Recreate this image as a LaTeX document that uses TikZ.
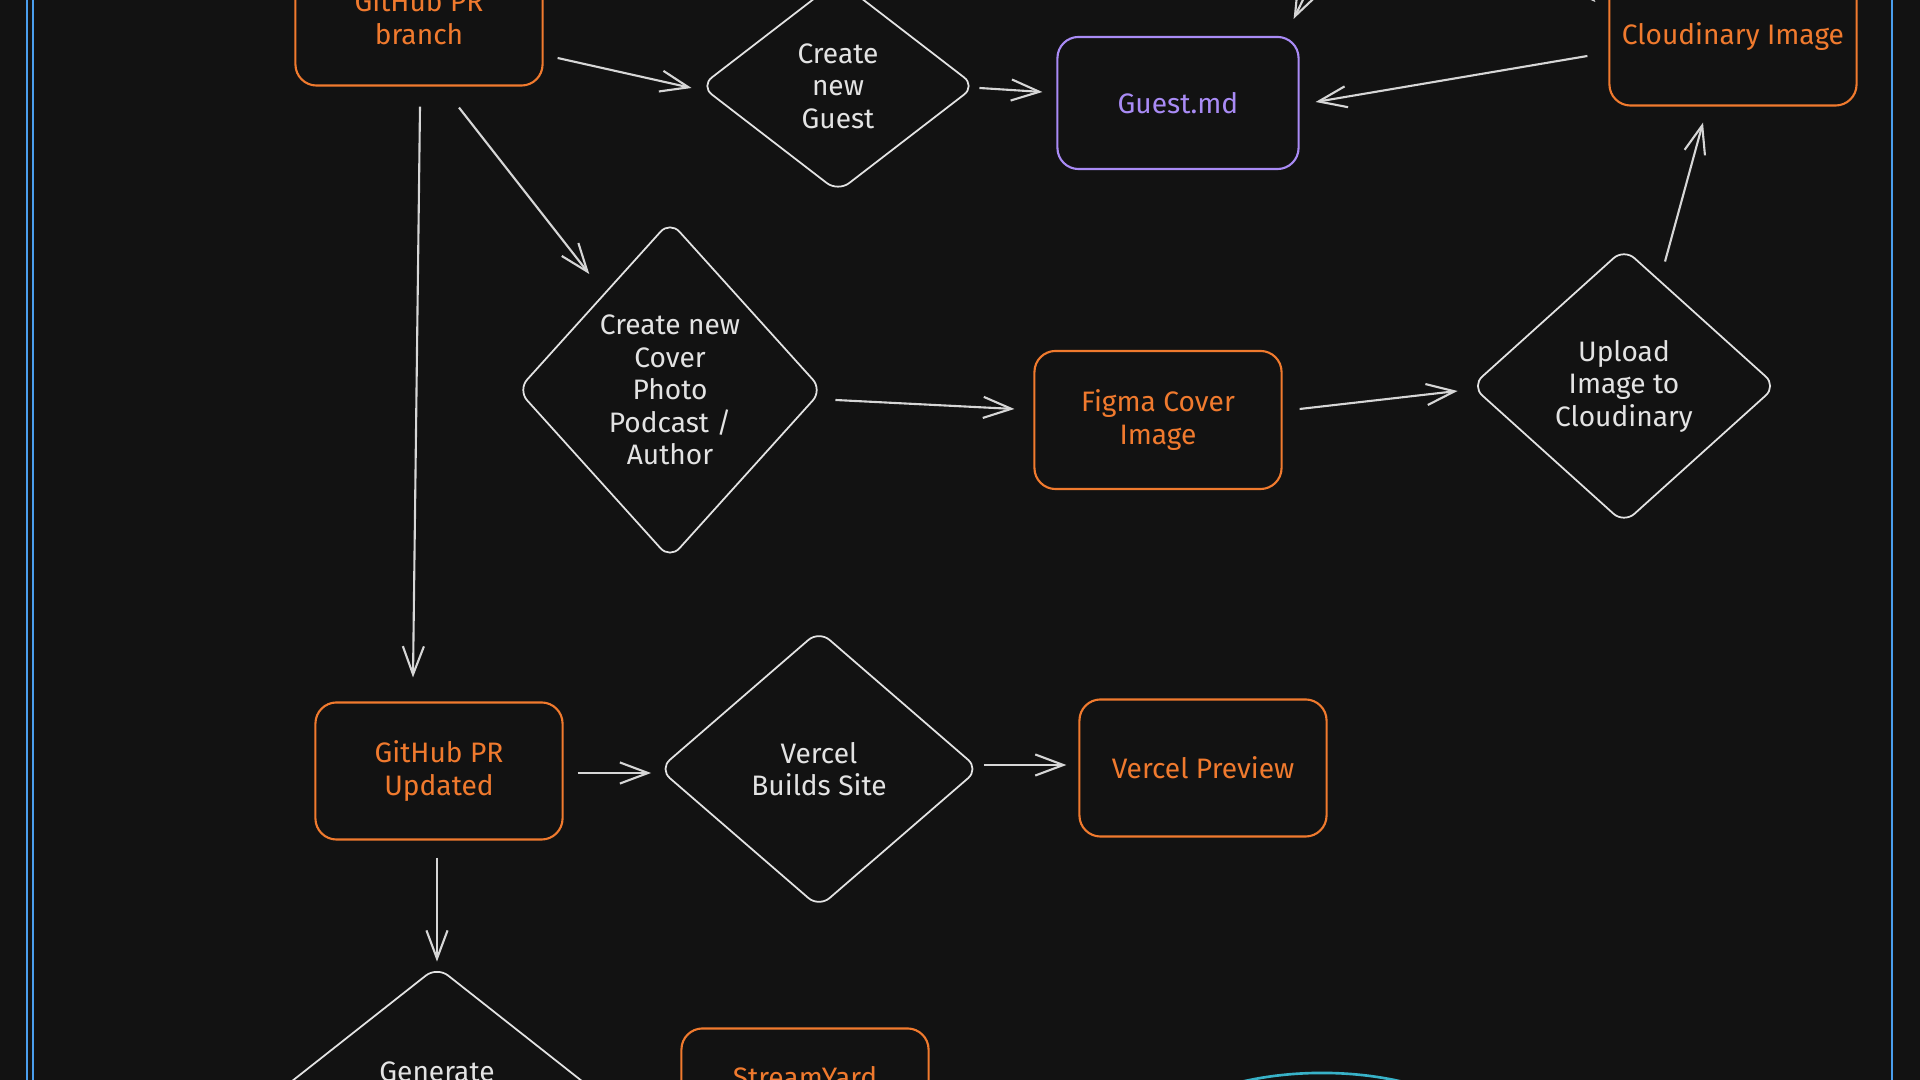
\documentclass[tikz,border=0pt]{standalone}
\usepackage{fontspec}
\setmainfont{Fira Sans}
\usepackage{tikz}
\usetikzlibrary{
  arrows.meta,
  positioning,
  shapes.geometric,
  calc
}
\definecolor{canvas}{HTML}{121212}
\definecolor{sketchorange}{HTML}{F07A2E}
\definecolor{sketchviolet}{HTML}{A98BF5}
\definecolor{sketchwhite}{HTML}{E3E3E3}
\definecolor{sketchgray}{HTML}{D6D6D6}
\definecolor{frameblue}{HTML}{4A9EED}
\definecolor{sketchteal}{HTML}{38B2C8}
\newcommand{\handfont}{\fontsize{8}{9.25}\selectfont}
\tikzset{
  orangebox/.style={draw=sketchorange, text=sketchorange, line width=0.6pt,
    rounded corners=6pt, minimum width=2.47cm, minimum height=1.37cm,
    align=center, font=\handfont},
  violetbox/.style={draw=sketchviolet, text=sketchviolet, line width=0.6pt,
    rounded corners=6pt, minimum width=2.41cm, minimum height=1.32cm,
    align=center, font=\handfont},
  decision/.style={diamond, draw=sketchwhite, text=sketchwhite, line width=0.5pt,
    rounded corners=4pt, inner sep=0pt, align=center, font=\handfont},
  arr/.style={-{Straight Barb[length=8pt, width=6pt]}, sketchgray, line width=0.6pt},
  frameline/.style={draw=frameblue, line width=0.55pt},
}

\begin{document}
\begin{tikzpicture}[x=0.01cm, y=-0.01cm]
  % Canvas
  \useasboundingbox (0,0) rectangle (1920,1080);
  \fill[canvas] (0,0) rectangle (1920,1080);
  \clip (0,0) rectangle (1920,1080);

  % Frame round the flow
  \draw[frameline] (27,-60) rectangle (1892,1160);
  \draw[frameline] (33,-60) -- (33,1160);

  % Top row
  \node[orangebox] (branch) at (419,17) {GitHub PR\\branch};
  \node[decision, minimum width=2.75cm, minimum height=2.12cm] (newguest) at (838,86)
    {Create\\new\\Guest};
  \node[violetbox] (guestmd) at (1178,103) {Guest.md};
  \node[orangebox] (cloudimg) at (1733,37) {Cloudinary Image};

  % Cover photo row
  \node[decision, minimum width=3.05cm, minimum height=3.38cm] (cover) at (670,390)
    {Create new\\Cover\\Photo\\Podcast /\\Author};
  \node[orangebox, minimum height=1.38cm] (figma) at (1158,420) {Figma Cover\\Image};
  \node[decision, minimum width=3.05cm, minimum height=2.75cm] (upload) at (1624,386)
    {Upload\\Image to\\Cloudinary};

  % Preview row
  \node[orangebox] (updated) at (439,771) {GitHub PR\\Updated};
  \node[decision, minimum width=3.2cm, minimum height=2.77cm] (vbuild) at (819,769)
    {Vercel\\Builds Site};
  \node[orangebox] (vpreview) at (1203,768) {Vercel Preview};

  % Bottom row, cut off by the edge
  \node[decision, minimum width=3.46cm, minimum height=2.73cm] (generate) at (437,1103) {};
  \node[font=\handfont, text=sketchwhite] (generatetxt) at (437,1072) {Generate};
  \node[orangebox] (streamyard) at (805,1097) {};
  \node[font=\handfont, text=sketchorange] (streamtxt) at (805,1077) {StreamYard};
  \node[ellipse, draw=sketchteal, line width=0.75pt,
        minimum width=4cm, minimum height=2.1cm] (store) at (1322,1178) {};

  % Arrows
  \coordinate (topin) at (1346,-88);
  \coordinate (cloudin) at (1530,-60);
  \draw[arr] ($(branch.east)+(14,41)$) -- ($(newguest.west)+(-8,2)$);
  \draw[arr] ($(newguest.east)+(3,2)$) -- ($(guestmd.west)+(-14,-11)$);
  \draw[arr] ($(cloudimg.west)+(-21,19)$) -- ($(guestmd.east)+(16,-1)$);
  \draw[arr] (topin) -- ($(guestmd.north east)+(-6,-17)$);
  \draw[arr] (cloudin) -- ($(cloudimg.west)+(-13,-35)$);
  \draw[arr] ($(branch.south)+(40,21)$) -- ($(cover.north west)+(-4,-31)$);
  \draw[arr] ($(branch.south)+(1,20)$) -- ($(updated.north)+(-26,-24)$);
  \draw[arr] ($(cover.east)+(12,10)$) -- ($(figma.west)+(-19,-11)$);
  \draw[arr] ($(figma.east)+(17,-11)$) -- ($(upload.west)+(-13,5)$);
  \draw[arr] ($(upload.north)+(41,14)$) -- ($(cloudimg.south)+(-30,16)$);
  \draw[arr] ($(updated.east)+(14,2)$) -- ($(vbuild.west)+(-7,4)$);
  \draw[arr] ($(vbuild.east)+(4,-4)$) -- ($(vpreview.west)+(-12,-3)$);
  \draw[arr] ($(updated.south)+(-2,17)$) -- ($(generate.north)+(0,-4)$);
\end{tikzpicture}
\end{document}
